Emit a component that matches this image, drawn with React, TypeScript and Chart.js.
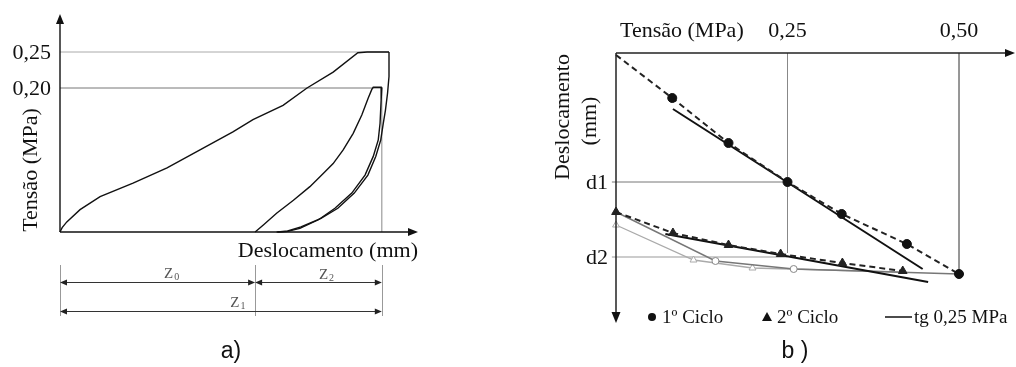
import React, { useEffect, useRef } from "react";
import { Chart, registerables } from "chart.js";
Chart.register(...registerables);

// ---------- Panel a) data : displacement (mm, arbitrary) vs stress (MPa) ----------
const load1X = [0, 0.06, 0.19, 0.56, 1.12, 2.04, 2.99, 3.91, 4.83, 5.39, 6.23, 6.9, 7.63, 8.32, 8.58, 9.19];
const load1Y = [0, 0.006, 0.014, 0.031, 0.049, 0.068, 0.089, 0.114, 0.139, 0.156, 0.176, 0.2, 0.222, 0.249, 0.25, 0.25];
const unload1X = [9.19, 9.19, 9.15, 9.09, 9.03, 8.96, 8.82, 8.6, 8.22, 7.76, 7.29, 6.73, 6.36, 6.08];
const unload1Y = [0.25, 0.216, 0.193, 0.169, 0.151, 0.128, 0.105, 0.079, 0.054, 0.033, 0.019, 0.007, 0.0014, 0];
const load2X = [5.45, 5.68, 6.05, 6.52, 6.98, 7.36, 7.63, 7.91, 8.19, 8.43, 8.61, 8.71, 8.75, 8.99];
const load2Y = [0, 0.0097, 0.026, 0.044, 0.063, 0.0815, 0.095, 0.114, 0.137, 0.1625, 0.186, 0.198, 0.201, 0.201];
const unload2X = [8.99, 8.97, 8.94, 8.89, 8.75, 8.52, 8.15, 7.68, 7.22, 6.7, 6.33, 6.05];
const unload2Y = [0.201, 0.183, 0.151, 0.128, 0.105, 0.079, 0.054, 0.033, 0.017, 0.005, 0.0005, 0];
const stressTicksA = [0.25, 0.2];
const stressTickLabelsA = ["0,25", "0,20"];
const refEndXA = [9.19, 8.99];
const zMarksX = [0, 5.45, 8.99]; // Z0 start, Z0 end / Z2 start, Z1 end

// ---------- Panel b) data : stress (MPa) vs displacement (mm, arbitrary) ----------
const cyc1Stress = [0.082, 0.164, 0.25, 0.329, 0.424, 0.5];
const cyc1Disp = [0.45, 0.9, 1.29, 1.61, 1.91, 2.21];
const fit1Stress = [0, 0.082, 0.164, 0.25, 0.329, 0.424, 0.5];
const fit1Disp = [0.02, 0.45, 0.9, 1.29, 1.61, 1.91, 2.21];
const tan1Stress = [0.083, 0.447];
const tan1Disp = [0.56, 2.16];
const cyc2Stress = [0, 0.083, 0.164, 0.24, 0.33, 0.418];
const cyc2Disp = [1.59, 1.8, 1.92, 2.01, 2.1, 2.18];
const tan2Stress = [0.072, 0.455];
const tan2Disp = [1.81, 2.29];
const grayCircStress = [0, 0.145, 0.259, 0.5];
const grayCircDisp = [1.59, 2.08, 2.16, 2.21];
const grayTriStress = [0, 0.113, 0.199, 0.415];
const grayTriDisp = [1.72, 2.07, 2.15, 2.19];
const dLevels = [1.29, 2.04];
const dLabels = ["d1", "d2"];
const stressTicksB = [0.25, 0.5];
const stressTickLabelsB = ["0,25", "0,50"];

const pts = (xs: number[], ys: number[]) => xs.map((x, i) => ({ x, y: ys[i] }));

const SERIF = '"Liberation Serif", "Times New Roman", serif';
const SANS = '"Liberation Sans", Arial, sans-serif';

function head(ctx: CanvasRenderingContext2D, tx: number, ty: number, dir: string, len: number, half: number) {
  ctx.beginPath();
  ctx.moveTo(tx, ty);
  if (dir === "up") { ctx.lineTo(tx - half, ty + len); ctx.lineTo(tx + half, ty + len); }
  if (dir === "down") { ctx.lineTo(tx - half, ty - len); ctx.lineTo(tx + half, ty - len); }
  if (dir === "right") { ctx.lineTo(tx - len, ty - half); ctx.lineTo(tx - len, ty + half); }
  if (dir === "left") { ctx.lineTo(tx + len, ty - half); ctx.lineTo(tx + len, ty + half); }
  ctx.closePath();
  ctx.fill();
}
function seg(ctx: CanvasRenderingContext2D, x1: number, y1: number, x2: number, y2: number) {
  ctx.beginPath();
  ctx.moveTo(x1, y1);
  ctx.lineTo(x2, y2);
  ctx.stroke();
}
function dimArrow(ctx: CanvasRenderingContext2D, x1: number, x2: number, y: number) {
  seg(ctx, x1 + 2, y, x2 - 2, y);
  head(ctx, x1, y, "left", 7, 3);
  head(ctx, x2, y, "right", 7, 3);
}
function zLabel(ctx: CanvasRenderingContext2D, cx: number, base: number, sub: string) {
  ctx.font = `15px ${SERIF}`;
  const w = ctx.measureText("Z").width;
  ctx.font = `10px ${SERIF}`;
  const ws = ctx.measureText(sub).width;
  const left = cx - (w + ws + 1) / 2;
  ctx.font = `15px ${SERIF}`;
  ctx.fillText("Z", left, base);
  ctx.font = `10px ${SERIF}`;
  ctx.fillText(sub, left + w + 1, base + 2);
}

const annoA = {
  id: "annoA",
  afterDraw(chart: any) {
    const { ctx, scales } = chart;
    const x = scales.x, y = scales.y;
    const x0 = x.getPixelForValue(0), y0 = y.getPixelForValue(0);
    ctx.save();
    ctx.fillStyle = "#111";
    ctx.strokeStyle = "#111";
    ctx.lineWidth = 1.4;
    // axes
    seg(ctx, x0, y0, x0, 22);
    head(ctx, x0, 14, "up", 10, 4);
    seg(ctx, x0, y0, x.right - 6, y0);
    head(ctx, x.right, y0, "right", 10, 4);
    // tick labels
    ctx.font = `22px ${SERIF}`;
    ctx.textAlign = "right";
    ctx.textBaseline = "alphabetic";
    stressTicksA.forEach((v, i) => ctx.fillText(stressTickLabelsA[i], x0 - 9, y.getPixelForValue(v) + 7));
    // axis titles
    ctx.fillText("Deslocamento (mm)", x.right, 257);
    ctx.save();
    ctx.translate(37, 170);
    ctx.rotate(-Math.PI / 2);
    ctx.textAlign = "center";
    ctx.fillText("Tensão (MPa)", 0, 0);
    ctx.restore();
    // dimension lines
    const px = zMarksX.map((v) => x.getPixelForValue(v));
    ctx.strokeStyle = "#999";
    ctx.lineWidth = 1;
    px.forEach((p) => seg(ctx, Math.round(p) + 0.5, 265, Math.round(p) + 0.5, 316));
    ctx.strokeStyle = "#333";
    ctx.fillStyle = "#222";
    dimArrow(ctx, px[0], px[1], 282.5);
    dimArrow(ctx, px[1], px[2], 282.5);
    dimArrow(ctx, px[0], px[2], 311.5);
    ctx.fillStyle = "#555";
    ctx.textAlign = "left";
    zLabel(ctx, (px[0] + px[1]) / 2 + 14, 278, "0");
    zLabel(ctx, (px[1] + px[2]) / 2 + 8, 279, "2");
    zLabel(ctx, (px[0] + px[2]) / 2 + 17, 307, "1");
    // panel label
    ctx.fillStyle = "#111";
    ctx.font = `23px ${SANS}`;
    ctx.textAlign = "center";
    ctx.fillText("a)", 231, 358);
    ctx.restore();
  },
};

const annoB = {
  id: "annoB",
  afterDraw(chart: any) {
    const { ctx, scales } = chart;
    const x = scales.x, y = scales.y;
    const x0 = x.getPixelForValue(0), y0 = y.getPixelForValue(0);
    ctx.save();
    ctx.fillStyle = "#111";
    ctx.strokeStyle = "#222";
    ctx.lineWidth = 1.5;
    seg(ctx, x0, y0, chart.width - 8, y0);
    head(ctx, chart.width - 1, y0, "right", 10, 4);
    seg(ctx, x0, y0, x0, y.bottom - 8);
    head(ctx, x0, y.bottom + 1, "down", 11, 4.5);
    // top labels
    ctx.font = `22px ${SERIF}`;
    ctx.textBaseline = "alphabetic";
    ctx.textAlign = "left";
    ctx.fillText("Tensão (MPa)", x0 + 4, 37);
    ctx.textAlign = "center";
    stressTicksB.forEach((v, i) => ctx.fillText(stressTickLabelsB[i], x.getPixelForValue(v), 37));
    // d labels
    ctx.textAlign = "right";
    dLevels.forEach((v, i) => ctx.fillText(dLabels[i], x0 - 8, y.getPixelForValue(v) + 7));
    // rotated title
    ctx.save();
    ctx.translate(69, 117);
    ctx.rotate(-Math.PI / 2);
    ctx.textAlign = "center";
    ctx.fillText("Deslocamento", 0, 0);
    ctx.fillText("(mm)", -4, 27);
    ctx.restore();
    // legend
    const ly = 317;
    ctx.font = `19px ${SERIF}`;
    ctx.textAlign = "left";
    ctx.beginPath();
    ctx.arc(152, ly, 4, 0, Math.PI * 2);
    ctx.fill();
    ctx.fillText("1º Ciclo", 162, 323);
    ctx.beginPath();
    ctx.moveTo(267, ly - 5);
    ctx.lineTo(272, ly + 4);
    ctx.lineTo(262, ly + 4);
    ctx.closePath();
    ctx.fill();
    ctx.fillText("2º Ciclo", 277, 323);
    ctx.lineWidth = 1.5;
    ctx.strokeStyle = "#111";
    seg(ctx, 385, ly, 412, ly);
    ctx.fillText("tg 0,25 MPa", 414, 323);
    // panel label
    ctx.font = `23px ${SANS}`;
    ctx.textAlign = "center";
    ctx.fillText("b )", 295, 358);
    ctx.restore();
  },
};

const lineDs = (data: any[], color: string, width: number, order: number, extra: any = {}) => ({
  data,
  showLine: true,
  borderColor: color,
  borderWidth: width,
  pointRadius: 0,
  fill: false,
  tension: 0,
  clip: false,
  order,
  ...extra,
});

export default function App() {
  const refA = useRef<HTMLCanvasElement>(null);
  const refB = useRef<HTMLCanvasElement>(null);
  useEffect(() => {
    const common = {
      responsive: false,
      animation: false as const,
      devicePixelRatio: 1,
      events: [] as any[],
      plugins: { legend: { display: false }, tooltip: { enabled: false } },
    };
    const chartA = new Chart(refA.current!, {
      type: "scatter",
      data: {
        datasets: [
          lineDs(pts([0, refEndXA[0]], [stressTicksA[0], stressTicksA[0]]), "#aaa", 1, 10),
          lineDs(pts([0, refEndXA[1]], [stressTicksA[1], stressTicksA[1]]), "#777", 1, 10),
          lineDs(pts([zMarksX[2], zMarksX[2]], [0, stressTicksA[1]]), "#888", 1, 10),
          lineDs(pts(load1X, load1Y), "#111", 1.4, 1),
          lineDs(pts(unload1X, unload1Y), "#111", 1.4, 1),
          lineDs(pts(load2X, load2Y), "#111", 1.4, 1),
          lineDs(pts(unload2X, unload2Y), "#111", 1.4, 1),
        ],
      },
      options: {
        ...common,
        layout: { padding: { left: 60, right: 82, top: 52, bottom: 135 } },
        scales: {
          x: { type: "linear", min: 0, max: 10, display: false },
          y: { type: "linear", min: 0, max: 0.25, display: false },
        },
      },
      plugins: [annoA],
    } as any);

    const chartB = new Chart(refB.current!, {
      type: "scatter",
      data: {
        datasets: [
          lineDs(pts([stressTicksB[0], stressTicksB[0]], [0, 2.0]), "#888", 1, 10),
          lineDs(pts([stressTicksB[1], stressTicksB[1]], [0, cyc1Disp[5]]), "#888", 1, 10),
          lineDs(pts([-0.006, stressTicksB[0]], [dLevels[0], dLevels[0]]), "#777", 1, 10),
          lineDs(pts([-0.006, stressTicksB[0]], [dLevels[1], dLevels[1]]), "#999", 1, 10),
          lineDs(pts(grayTriStress, grayTriDisp), "#aaa", 1.3, 6, {
            pointStyle: "triangle",
            pointRadius: [4, 4, 4, 0],
            pointBackgroundColor: "#fff",
            pointBorderColor: "#aaa",
            pointBorderWidth: 1,
          }),
          lineDs(pts(grayCircStress, grayCircDisp), "#777", 1.4, 5, {
            pointStyle: "circle",
            pointRadius: [0, 3.5, 3.5, 0],
            pointBackgroundColor: "#fff",
            pointBorderColor: "#888",
            pointBorderWidth: 1,
          }),
          lineDs(pts(cyc2Stress, cyc2Disp), "#222", 2, 3, { borderDash: [6, 4] }),
          lineDs(pts(tan2Stress, tan2Disp), "#111", 2, 3),
          lineDs(pts(fit1Stress, fit1Disp), "#222", 2, 3, { borderDash: [6, 4] }),
          lineDs(pts(tan1Stress, tan1Disp), "#111", 2, 3),
          {
            data: pts(cyc2Stress, cyc2Disp),
            showLine: false,
            pointStyle: "triangle",
            pointRadius: 5,
            pointBackgroundColor: "#222",
            pointBorderColor: "#222",
            clip: false,
            order: 1,
          },
          {
            data: pts(cyc1Stress, cyc1Disp),
            showLine: false,
            pointStyle: "circle",
            pointRadius: 4.5,
            pointBackgroundColor: "#111",
            pointBorderColor: "#111",
            clip: false,
            order: 1,
          },
        ],
      },
      options: {
        ...common,
        layout: { padding: { left: 116, right: 57, top: 53, bottom: 45 } },
        scales: {
          x: { type: "linear", min: 0, max: 0.5, display: false },
          y: { type: "linear", min: 0, max: 2.69, reverse: true, display: false },
        },
      },
      plugins: [annoB],
    } as any);

    return () => {
      chartA.destroy();
      chartB.destroy();
    };
  }, []);

  return (
    <div style={{ position: "absolute", left: 0, top: 0, width: 1016, height: 367, background: "#fff" }}>
      <canvas ref={refA} width={500} height={367} style={{ position: "absolute", left: 0, top: 0, width: 500, height: 367 }} />
      <canvas ref={refB} width={516} height={367} style={{ position: "absolute", left: 500, top: 0, width: 516, height: 367 }} />
    </div>
  );
}
